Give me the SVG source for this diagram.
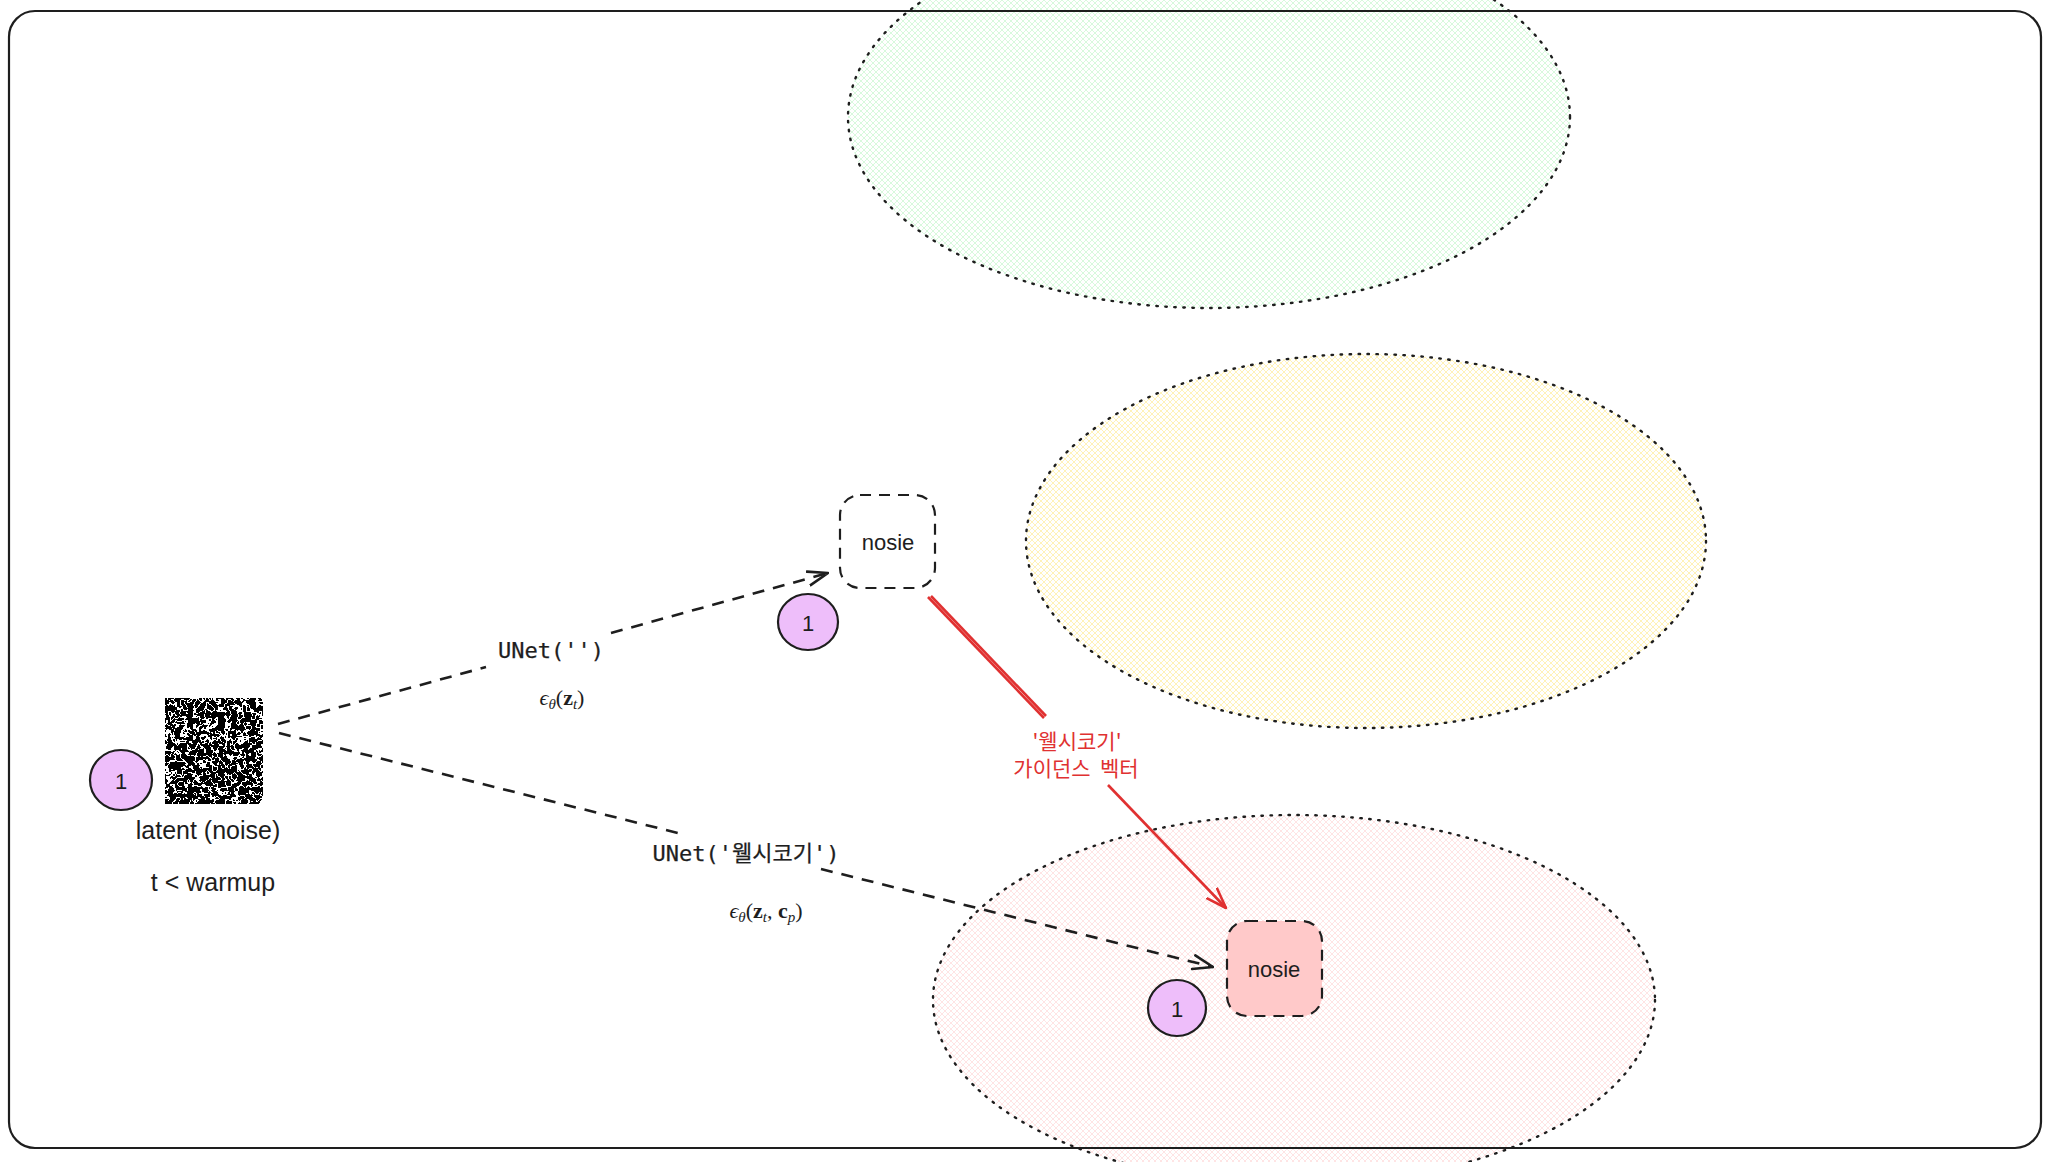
<svg xmlns="http://www.w3.org/2000/svg" width="2048" height="1162" viewBox="0 0 2048 1162">
<defs>
<style>
.frame{fill:none;stroke:#1e1e1e;stroke-width:2.2}
.zone{stroke:#1e1e1e;stroke-width:2.4;stroke-dasharray:1.5 7.5;stroke-linecap:round}
.box{stroke:#1e1e1e;stroke-width:2.2;stroke-dasharray:11 8}
.badge{fill:#eebefa;stroke:#1e1e1e;stroke-width:2.2}
.conn{fill:none;stroke:#1e1e1e;stroke-width:2.6;stroke-dasharray:12 9}
.red{fill:none;stroke:#e03131;stroke-width:2.6}
.hand{font-family:"Liberation Sans","DejaVu Sans",sans-serif;fill:#1e1e1e;text-anchor:middle;dominant-baseline:central}
.num{font-family:"Liberation Sans","DejaVu Sans",sans-serif;font-size:22px;fill:#1e1e1e;text-anchor:middle;dominant-baseline:central}
.code{font-family:"DejaVu Sans Mono","Noto Sans CJK KR",monospace;font-size:22px;fill:#1e1e1e;stroke:#1e1e1e;stroke-width:0.25;text-anchor:middle;dominant-baseline:central}
.math{font-family:"Liberation Serif","DejaVu Serif",serif;font-size:22px;fill:#1e1e1e;text-anchor:middle}
.redtxt{font-family:"Noto Sans CJK KR","Noto Sans",sans-serif;font-size:21px;fill:#e03131;text-anchor:middle;dominant-baseline:central}
</style>
<pattern id="hG" patternUnits="userSpaceOnUse" width="6" height="6"><path d="M0,6L6,0M0,0L6,6" stroke="#b2f2bb" stroke-width="0.6" opacity="0.85"/></pattern>
<pattern id="hY" patternUnits="userSpaceOnUse" width="6" height="6"><path d="M0,6L6,0M0,0L6,6" stroke="#ffec99" stroke-width="0.7"/></pattern>
<pattern id="hR" patternUnits="userSpaceOnUse" width="6" height="6"><path d="M0,6L6,0M0,0L6,6" stroke="#ffc9c9" stroke-width="0.6" opacity="0.85"/></pattern>
<marker id="ah" viewBox="0 0 22 18" refX="21" refY="9" markerWidth="22" markerHeight="18" markerUnits="userSpaceOnUse" orient="auto">
<path d="M1,2L21,9L1,16" fill="none" stroke="#1e1e1e" stroke-width="2.6" stroke-linecap="round" stroke-linejoin="round"/>
</marker>
<marker id="ahr" viewBox="0 0 22 18" refX="21" refY="9" markerWidth="22" markerHeight="18" markerUnits="userSpaceOnUse" orient="auto">
<path d="M1,2L21,9L1,16" fill="none" stroke="#e03131" stroke-width="2.6" stroke-linecap="round" stroke-linejoin="round"/>
</marker>
<filter id="noise" x="0" y="0" width="1" height="1" filterUnits="objectBoundingBox">
<feTurbulence type="fractalNoise" baseFrequency="0.16" numOctaves="2" seed="7"/>
<feColorMatrix type="matrix" values="1 0 0 0 0 1 0 0 0 0 1 0 0 0 0 0 0 0 0 1"/>
<feComponentTransfer>
<feFuncR type="discrete" tableValues="0 0 0 0 1 0 0 0 0 0"/>
<feFuncG type="discrete" tableValues="0 0 0 0 1 0 0 0 0 0"/>
<feFuncB type="discrete" tableValues="0 0 0 0 1 0 0 0 0 0"/>
</feComponentTransfer>
</filter>
</defs>
<rect width="2048" height="1162" fill="#ffffff"/>

<g id="zone-green"><ellipse class="zone" cx="1209" cy="117" rx="361" ry="191" fill="url(#hG)"/></g>
<g id="zone-yellow"><ellipse class="zone" cx="1366" cy="541" rx="340" ry="187" fill="url(#hY)"/></g>
<g id="zone-pink"><ellipse class="zone" cx="1294" cy="1000" rx="361" ry="185" fill="url(#hR)"/></g>

<g id="frame"><rect class="frame" x="9" y="11" width="2032" height="1137" rx="26" ry="26"/></g>

<g id="latent">
<rect x="165" y="698" width="98" height="106" fill="#000" filter="url(#noise)"/>
<text class="hand" x="208" y="830" font-size="25">latent (noise)</text>
<text class="hand" x="213" y="882" font-size="25">t &lt; warmup</text>
</g>
<g id="badge-latent"><ellipse class="badge" cx="121" cy="780" rx="31" ry="30"/><text class="num" x="121" y="781">1</text></g>

<g id="noise-uncond">
<rect class="box" x="840" y="495" width="95" height="93" rx="20" ry="20" fill="none"/>
<text class="hand" x="888" y="542" font-size="22">nosie</text>
</g>
<g id="badge-uncond"><ellipse class="badge" cx="808" cy="622" rx="30" ry="28"/><text class="num" x="808" y="623">1</text></g>

<g id="noise-cond">
<rect class="box" x="1227" y="921" width="95" height="95" rx="20" ry="20" fill="#ffc9c9"/>
<text class="hand" x="1274" y="969" font-size="22">nosie</text>
</g>
<g id="badge-cond"><ellipse class="badge" cx="1177" cy="1008" rx="29" ry="28"/><text class="num" x="1177" y="1009">1</text></g>

<g id="connectors">
<path class="conn" d="M278,724L486,667"/>
<path class="conn" d="M611,633L828,573" marker-end="url(#ah)"/>
<path class="conn" d="M279,733L678,833"/>
<path class="conn" d="M821,869L1213,967" marker-end="url(#ah)"/>
<path class="red" d="M928,597L1044,718"/>
<path class="red" d="M931,596L1046,716" stroke-width="1.4"/>
<path class="red" d="M1108,785L1226,908" marker-end="url(#ahr)"/>
</g>

<g id="labels">
<text class="code" x="551" y="650">UNet('')</text>
<text class="math" x="562" y="705"><tspan font-style="italic">ϵ</tspan><tspan font-style="italic" font-size="15" dy="4">θ</tspan><tspan dy="-4">(</tspan><tspan font-weight="bold">z</tspan><tspan font-style="italic" font-size="15" dy="4">t</tspan><tspan dy="-4">)</tspan></text>
<text class="code" x="746" y="853">UNet('웰시코기')</text>
<text class="math" x="766" y="918"><tspan font-style="italic">ϵ</tspan><tspan font-style="italic" font-size="15" dy="4">θ</tspan><tspan dy="-4">(</tspan><tspan font-weight="bold">z</tspan><tspan font-style="italic" font-size="15" dy="4">t</tspan><tspan dy="-4">, </tspan><tspan font-weight="bold">c</tspan><tspan font-style="italic" font-size="15" dy="4">p</tspan><tspan dy="-4">)</tspan></text>
<text class="redtxt" x="1077" y="740">'웰시코기'</text>
<text class="redtxt" x="1076" y="767" xml:space="preserve">가이던스  벡터</text>
</g>
</svg>
